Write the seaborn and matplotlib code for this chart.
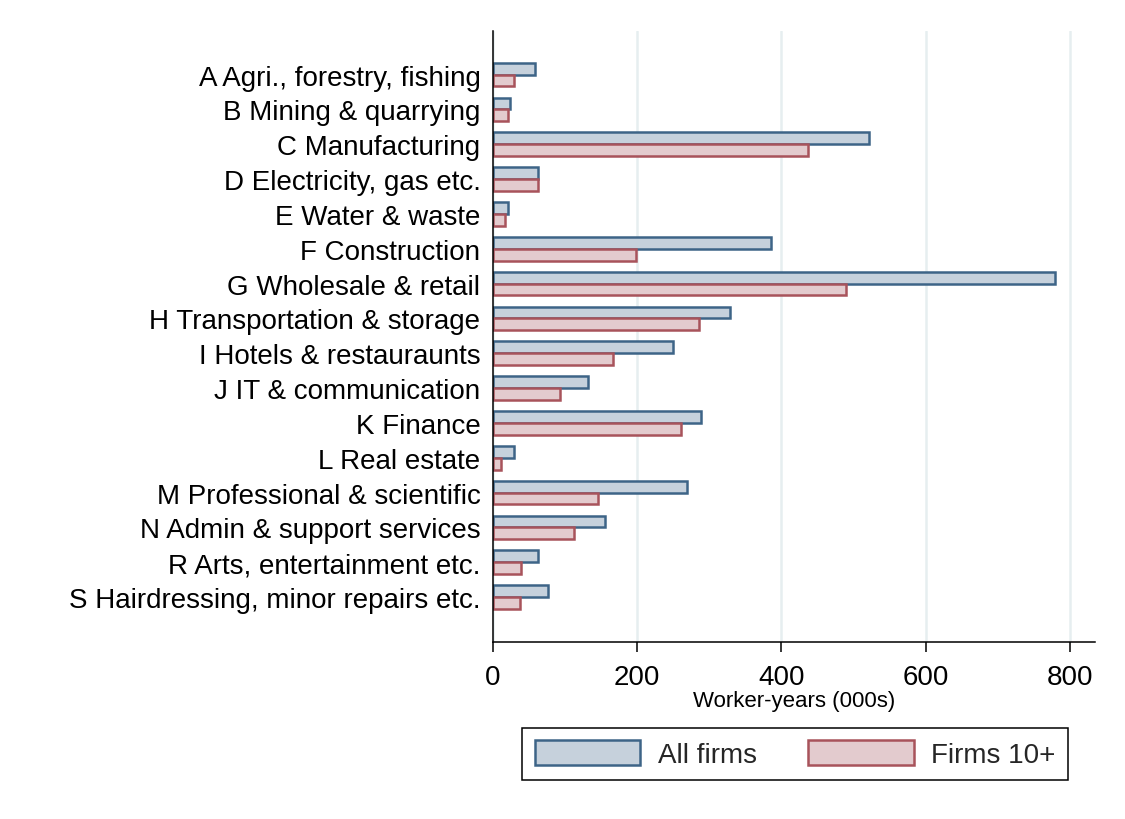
import matplotlib
matplotlib.use("Agg")
import matplotlib.pyplot as plt
import seaborn as sns
import pandas as pd

# Worker-years (thousands) by industry section
industries = [
    "A Agri., forestry, fishing",
    "B Mining & quarrying",
    "C Manufacturing",
    "D Electricity, gas etc.",
    "E Water & waste",
    "F Construction",
    "G Wholesale & retail",
    "H Transportation & storage",
    "I Hotels & restauraunts",
    "J IT & communication",
    "K Finance",
    "L Real estate",
    "M Professional & scientific",
    "N Admin & support services",
    "R Arts, entertainment etc.",
    "S Hairdressing, minor repairs etc.",
]
all_firms = [58.5, 23, 522, 62, 21, 385, 779, 329, 250, 132, 289, 29, 269, 156, 62, 76]
firms_10plus = [29, 21, 437, 62, 17, 199, 490, 286, 167, 93, 261, 11, 146, 112, 39, 38]
series_names = ["All firms", "Firms 10+"]
x_ticks = [0, 200, 400, 600, 800]

df = pd.DataFrame({
    "industry": industries * 2,
    "value": all_firms + firms_10plus,
    "series": [series_names[0]] * len(industries) + [series_names[1]] * len(industries),
})

fills = {"All firms": "#c6d1dc", "Firms 10+": "#e3cbce"}
edges = {"All firms": "#3d6487", "Firms 10+": "#a8535b"}

sns.set_style("white")
plt.rcParams["font.family"] = ["Liberation Sans", "DejaVu Sans"]

fig = plt.figure(figsize=(11.25, 8.2), dpi=100)
ax = fig.add_axes([0.4382, 0.2159, 0.5351, 0.7451])

sns.barplot(
    data=df, y="industry", x="value", hue="series", orient="h",
    order=industries, hue_order=series_names, palette=fills,
    width=0.68, ax=ax, legend=False, errorbar=None, saturation=1,
)

# outline each bar in its series colour
n = len(industries)
for i, patch in enumerate(ax.patches[: 2 * n]):
    name = series_names[i // n]
    patch.set_edgecolor(edges[name])
    patch.set_linewidth(1.8)

ax.set_xlim(0, 835)
ax.set_ylim(n - 1 + 1.29, -1.25)
ax.set_xticks(x_ticks)
ax.set_xticklabels([str(t) for t in x_ticks])
ax.xaxis.grid(True, color="#e6eef0", linewidth=1.8)
ax.set_axisbelow(True)

for side in ("top", "right"):
    ax.spines[side].set_visible(False)
for side in ("left", "bottom"):
    ax.spines[side].set_color("black")
    ax.spines[side].set_linewidth(1.1)

ax.tick_params(axis="y", length=0, pad=9, labelsize=20, labelcolor="black")
ax.tick_params(axis="x", length=7.2, width=1.1, direction="out", color="black",
               pad=9, labelsize=20, labelcolor="black", bottom=True)
ax.set_ylabel("")
ax.set_xlabel("Worker-years (000s)", fontsize=16, labelpad=0, color="black")

handles = [
    plt.Rectangle((0, 0), 1, 1, facecolor=fills[s], edgecolor=edges[s], linewidth=1.8)
    for s in series_names
]
leg = fig.legend(
    handles, series_names, loc="center", bbox_to_anchor=(0.7067, 0.0793),
    ncol=2, fontsize=20, frameon=True, fancybox=False, edgecolor="black",
    handlelength=3.8, handleheight=1.0, handletextpad=0.62, columnspacing=1.85,
    borderpad=0.45, borderaxespad=0, framealpha=1,
)
leg.get_frame().set_linewidth(1.1)

fig.savefig("out.png", dpi=100, facecolor="white")
